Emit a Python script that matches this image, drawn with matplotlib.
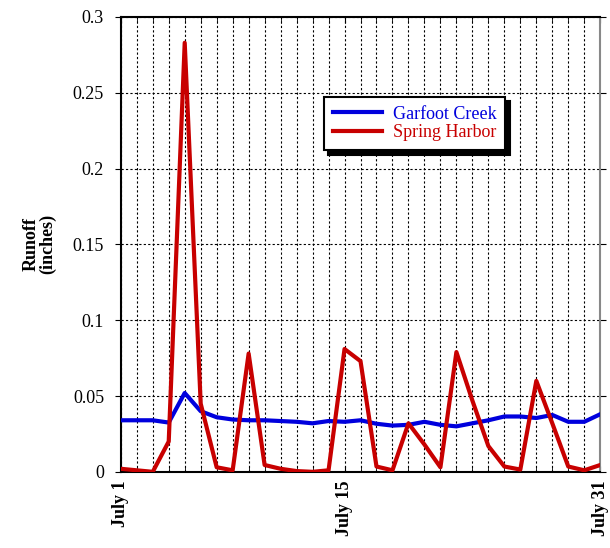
import matplotlib
matplotlib.use("Agg")
import matplotlib.pyplot as plt
from matplotlib.ticker import MultipleLocator, FixedLocator

# daily runoff for July, inches
days = list(range(1, 32))
garfoot = [0.034, 0.034, 0.034, 0.0325, 0.052, 0.040, 0.036, 0.0345, 0.034, 0.034,
           0.0335, 0.033, 0.032, 0.0335, 0.033, 0.034, 0.0317, 0.0305, 0.031, 0.033,
           0.031, 0.030, 0.032, 0.034, 0.0365, 0.0365, 0.0355, 0.0375, 0.033, 0.033,
           0.038]
spring = [0.002, 0.001, 0.0, 0.020, 0.283, 0.045, 0.003, 0.001, 0.078, 0.0045,
          0.002, 0.0005, 0.0, 0.001, 0.081, 0.073, 0.0035, 0.001, 0.032, 0.018,
          0.003, 0.079, 0.047, 0.017, 0.0035, 0.0015, 0.060, 0.032, 0.0035, 0.001,
          0.0045]
tick_days = [1, 15, 31]
tick_labels = ["July 1", "July 15", "July 31"]

plt.rcParams['font.family'] = ['Liberation Serif', 'DejaVu Serif']

fig = plt.figure(figsize=(6.1, 5.48), dpi=100)
ax = fig.add_axes([0.198, 0.139, 0.786, 0.830])

ax.plot(days, garfoot, color='#0000dd', lw=3, label='Garfoot Creek', zorder=3)
ax.plot(days, spring, color='#c80000', lw=3, label='Spring Harbor', zorder=4)

ax.set_xlim(1, 31)
ax.set_ylim(0, 0.3)
ax.xaxis.set_major_locator(FixedLocator(tick_days))
ax.xaxis.set_minor_locator(MultipleLocator(1))
ax.set_xticks(tick_days, tick_labels, rotation=90, fontweight='bold', fontsize=13)
ax.yaxis.set_major_locator(MultipleLocator(0.05))
ax.set_yticks([0, 0.05, 0.1, 0.15, 0.2, 0.25, 0.3],
              ['0', '0.05', '0.1', '0.15', '0.2', '0.25', '0.3'])
ax.tick_params(axis='y', labelsize=13, direction='out', length=4, right=True, pad=8)
ax.tick_params(axis='x', which='both', direction='in', length=4, top=True, pad=6)

# dotted grid on every day and every 0.05
ax.grid(True, which='both', axis='x', color='black', ls=(0, (2, 2)), lw=0.8)
ax.grid(True, which='major', axis='y', color='black', ls=(0, (2, 2)), lw=0.8)

for side in ['left', 'top', 'bottom']:
    ax.spines[side].set_linewidth(1.5)
ax.spines['right'].set_color('#888888')
ax.spines['right'].set_linewidth(1.5)

ax.set_ylabel('Runoff\n(inches)', fontweight='bold', fontsize=13, labelpad=12,
              linespacing=0.9)

leg = ax.legend(loc='upper left', bbox_to_anchor=(0.405, 0.845), fontsize=13,
                labelcolor='linecolor', fancybox=False, framealpha=1,
                edgecolor='black', handlelength=2.7, borderpad=0.5,
                labelspacing=0.1, handletextpad=0.6,
                shadow={'ox': 3, 'oy': -3, 'facecolor': 'black',
                        'edgecolor': 'black', 'alpha': 1})
leg.get_frame().set_linewidth(1.5)
leg.set_zorder(10)

fig.savefig('out.png', dpi=100)
